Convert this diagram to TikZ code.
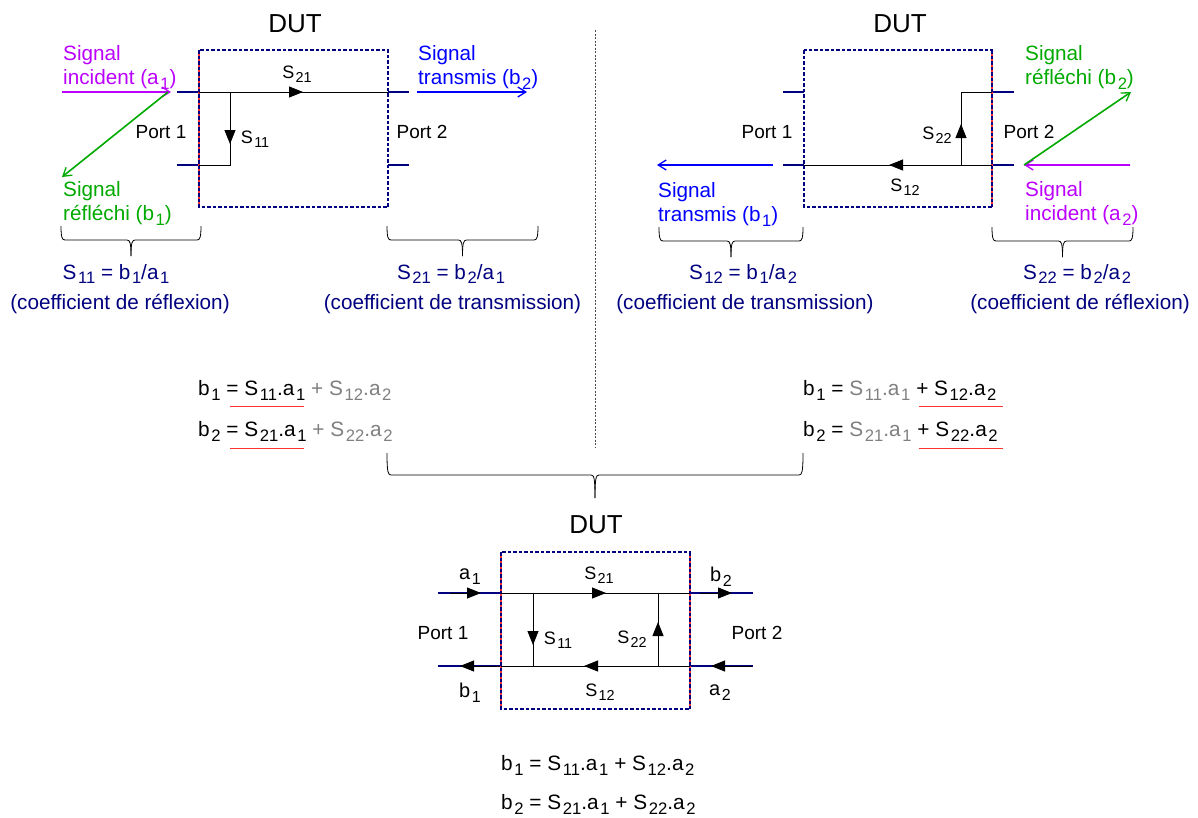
\documentclass[tikz,border=0pt]{standalone}
\usepackage{fontspec}
\setmainfont{Liberation Sans}
\usetikzlibrary{arrows.meta}
\definecolor{navy}{RGB}{0,0,128}
\definecolor{violet2}{RGB}{187,0,255}
\definecolor{green2}{RGB}{0,170,0}
\definecolor{blue2}{RGB}{0,0,255}
\definecolor{red2}{RGB}{255,50,50}
\definecolor{grey2}{RGB}{128,128,128}
\tikzset{
  x=1pt,y=-1pt,
  lbl/.style={inner sep=0pt,font=\fontsize{18}{21}\selectfont},
  lv/.style={lbl,font=\fontsize{20}{21}\selectfont},
  lb/.style={lbl,anchor=west,align=left,font=\fontsize{20.7}{24.5}\selectfont},
  port/.style={lbl,font=\fontsize{19}{20}\selectfont},
  title/.style={lbl,font=\fontsize{26}{28}\selectfont},
  eq/.style={lbl,anchor=west,font=\fontsize{20.8}{24}\selectfont},
  coef/.style={lbl,text=navy,font=\fontsize{20.7}{25}\selectfont},
  dut/.style={navy,line width=1.4pt,dash pattern=on 3.5pt off 2pt},
  redside/.style={red2,line width=2pt},
  lead/.style={navy,line width=1.5pt},
  wire/.style={black,line width=0.9pt},
  sig/.style={line width=1.6pt,-{Straight Barb[length=8pt,width=10pt,line width=1.3pt]}},
  mid/.style={-{Triangle[length=14pt,width=11pt]},black,line width=0.9pt},
  brace/.style={black,line width=0.8pt},
  uline/.style={red2,line width=0.9pt}
}
\newcommand{\sub}[1]{\raisebox{-0.24em}{\kern0.08em\scalebox{0.8}{#1}}}
\newcommand{\bracepath}[5]{% x1 x2 ytop ybottom depth
  \pgfmathsetmacro{\xm}{(#1+#2)/2}
  \draw[brace] (#1,#3) .. controls (#1,#3+#5-3) and (#1+1,#3+#5) .. (#1+4,#3+#5) -- (\xm-4,#3+#5) .. controls (\xm-1,#3+#5) and (\xm,#3+#5+3) .. (\xm,#4);
  \draw[brace] (#2,#3) .. controls (#2,#3+#5-3) and (#2-1,#3+#5) .. (#2-4,#3+#5) -- (\xm+4,#3+#5) .. controls (\xm+1,#3+#5) and (\xm,#3+#5+3) .. (\xm,#4);
}
\begin{document}
\begin{tikzpicture}
\useasboundingbox (0,0) rectangle (1198,817);
\fill[white] (0,0) rectangle (1198,817);

% separator
\draw[black!70,line width=0.7pt,dash pattern=on 2pt off 1.5pt] (595,30) -- (595,447);

%%% Panel 1
\node[title] (t1) at (295,24) {DUT};
\draw[lead] (177,92) -- (199,92); \draw[lead] (177,165) -- (199,165);
\draw[lead] (388,92) -- (409,92); \draw[lead] (388,165) -- (409,165);
\draw[dut] (199,50) rectangle (388,207);
\draw[redside] (199,50) -- (199,207);
\draw[dut] (199,50) -- (199,207);
\draw[wire] (199,92) -- (388,92);
\draw[wire] (199,165) -- (230,165) -- (230,92);
\draw[mid] (230,92) -- (230,144);
\draw[mid] (199,92) -- (303,92);
\node[lbl] (s21a) at (297,74) {S\sub{21}};
\node[lbl] (s11a) at (255,139) {S\sub{11}};
\node[port] (p1a) at (161,132) {Port 1};
\node[port] (p2a) at (422,132) {Port 2};
\node[lb,text=violet2] (sia) at (63,67.5) {Signal\\incident (a\sub{1})};
\node[lb,text=blue2] (sta) at (418,67.5) {Signal\\transmis (b\sub{2})};
\node[lb,text=green2] (sra) at (63,203.5) {Signal\\réfléchi (b\sub{1})};
\coordinate (i1s) at (62,92); \coordinate (i1e) at (171,92);
\draw[sig,violet2] (i1s) -- (i1e);
\coordinate (r1s) at (168,92); \coordinate (r1e) at (62,177);
\draw[sig,green2] (r1s) -- (r1e);
\coordinate (t1s) at (417,92); \coordinate (t1e) at (527,92);
\draw[sig,blue2] (t1s) -- (t1e);
\bracepath{61}{201}{226}{256}{14}
\bracepath{387}{538}{226}{256}{14}
\node[coef] (ca) at (116,274) {S\sub{11} = b\sub{1}/a\sub{1}};
\node[coef] (cb) at (120,304) {(coefficient de réflexion)};
\node[coef] (cc) at (451,274) {S\sub{21} = b\sub{2}/a\sub{1}};
\node[coef] (cd) at (452.5,304) {(coefficient de transmission)};

%%% Panel 2
\node[title] (t2) at (900,24) {DUT};
\draw[lead] (783,92) -- (804,92); \draw[lead] (783,165) -- (804,165);
\draw[lead] (992,92) -- (1014,92); \draw[lead] (992,165) -- (1014,165);
\draw[dut] (804,50) rectangle (992,207);
\draw[redside] (992,50) -- (992,207);
\draw[dut] (992,50) -- (992,207);
\draw[wire] (804,165) -- (992,165);
\draw[wire] (992,92) -- (961,92) -- (961,165);
\draw[mid] (961,165) -- (961,124);
\draw[mid] (992,165) -- (889,165);
\node[lbl] (s12b) at (905,187) {S\sub{12}};
\node[lbl] (s22b) at (937,135) {S\sub{22}};
\node[port] (p1b) at (767,132) {Port 1};
\node[port] (p2b) at (1029,132) {Port 2};
\node[lb,text=green2] (srb) at (1025,67.5) {Signal\\réfléchi (b\sub{2})};
\node[lb,text=blue2] (stb) at (658,204.5) {Signal\\transmis (b\sub{1})};
\node[lb,text=violet2] (sib) at (1025,203.5) {Signal\\incident (a\sub{2})};
\coordinate (t2s) at (773,165); \coordinate (t2e) at (657,165);
\draw[sig,blue2] (t2s) -- (t2e);
\coordinate (i2s) at (1130,165); \coordinate (i2e) at (1024,165);
\draw[sig,violet2] (i2s) -- (i2e);
\coordinate (r2s) at (1024,165); \coordinate (r2e) at (1131,92);
\draw[sig,green2] (r2s) -- (r2e);
\bracepath{659}{803}{227}{257}{14}
\bracepath{992}{1133}{227}{257}{14}
\node[coef] (ce) at (743,274) {S\sub{12} = b\sub{1}/a\sub{2}};
\node[coef] (cf) at (745,304) {(coefficient de transmission)};
\node[coef] (cg) at (1077,274) {S\sub{22} = b\sub{2}/a\sub{2}};
\node[coef] (ch) at (1080,304) {(coefficient de réflexion)};

%%% Equations left
\node[eq] (e1a) at (198,390) {b\sub{1} = S\sub{11}.a\sub{1} \textcolor{grey2}{+ S\sub{12}.a\sub{2}}};
\node[eq] (e1b) at (198,431) {b\sub{2} = S\sub{21}.a\sub{1} \textcolor{grey2}{+ S\sub{22}.a\sub{2}}};
\draw[uline] (230,406) -- (304,406);
\draw[uline] (230,448) -- (304,448);
%%% Equations right
\node[eq] (e2a) at (803,390) {b\sub{1} = \textcolor{grey2}{S\sub{11}.a\sub{1}} + S\sub{12}.a\sub{2}};
\node[eq] (e2b) at (803,431) {b\sub{2} = \textcolor{grey2}{S\sub{21}.a\sub{1}} + S\sub{22}.a\sub{2}};
\draw[uline] (919,406) -- (1003,406);
\draw[uline] (919,448) -- (1003,448);

\bracepath{387}{803}{453}{498}{22}

%%% Panel 3
\node[title] (t3) at (596,525) {DUT};
\draw[lead] (438,593) -- (501,593); \draw[lead] (438,666) -- (501,666);
\draw[lead] (690,593) -- (753,593); \draw[lead] (690,666) -- (753,666);
\draw[dut] (501,552) rectangle (690,709);
\draw[redside] (501,552) -- (501,709);
\draw[redside] (690,552) -- (690,709);
\draw[dut] (501,552) -- (501,709);
\draw[dut] (690,552) -- (690,709);
\draw[wire] (501,593) -- (690,593);
\draw[wire] (501,666) -- (690,666);
\draw[wire] (533,593) -- (533,666);
\draw[wire] (658,593) -- (658,666);
\draw[mid] (533,593) -- (533,645);
\draw[mid] (658,666) -- (658,622);
\draw[mid] (501,593) -- (606,593);
\draw[mid] (690,666) -- (584,666);
\draw[mid] (450,593) -- (481,593);
\draw[mid] (500,666) -- (460,666);
\draw[mid] (700,593) -- (732,593);
\draw[mid] (752,666) -- (711,666);
\node[lbl] (s21c) at (599,575) {S\sub{21}};
\node[lbl] (s12c) at (600,692) {S\sub{12}};
\node[lbl] (s11c) at (558,640) {S\sub{11}};
\node[lbl] (s22c) at (632,639) {S\sub{22}};
\node[lv] (a1c) at (470,577) {a\sub{1}};
\node[lv] (b1c) at (470,693) {b\sub{1}};
\node[lv] (b2c) at (721,577) {b\sub{2}};
\node[lv] (a2c) at (720,693) {a\sub{2}};
\node[port] (p1c) at (443,633) {Port 1};
\node[port] (p2c) at (757,633) {Port 2};
\node[eq] (e3a) at (501,765) {b\sub{1} = S\sub{11}.a\sub{1} + S\sub{12}.a\sub{2}};
\node[eq] (e3b) at (501,804) {b\sub{2} = S\sub{21}.a\sub{1} + S\sub{22}.a\sub{2}};
\end{tikzpicture}
\end{document}
